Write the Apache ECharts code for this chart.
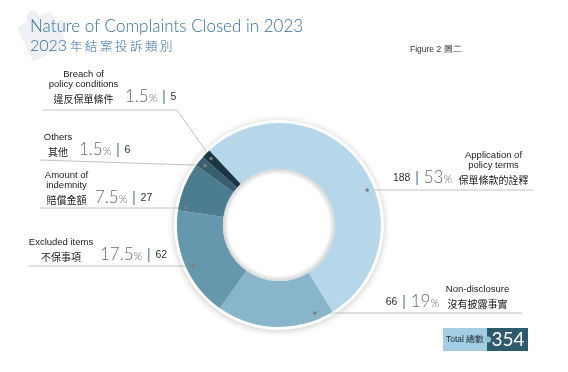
<!DOCTYPE html>
<html><head><meta charset="utf-8">
<script src="https://cdn.jsdelivr.net/npm/echarts@6/dist/echarts.min.js"></script>
<style>html,body{margin:0;padding:0;background:#fff;}#c{width:568px;height:372px;}</style>
</head><body><div id="c"></div>
<script>
// ---- data ----
const namesEn = ['Application of\npolicy terms', 'Non-disclosure', 'Excluded items', 'Amount of\nindemnity', 'Others', 'Breach of\npolicy conditions'];
const namesZh = ['保單條款的詮釋', '沒有披露事實', '不保事項', '賠償金額', '其他', '違反保單條件'];
const counts = [188, 66, 62, 27, 6, 5];
const pctLabels = ['53', '19', '17.5', '7.5', '1.5', '1.5'];
const titleEn = 'Nature of Complaints Closed in 2023';
const titleZhYear = '2023';
const titleZh = '年結案投訴類別';
const figureLabel = 'Figure 2 圖二';
const totalLabel = 'Total 總數';

// ---- styles / layout ----
const colors = ['#b6d7ea', '#88b5ca', '#6698ad', '#4c7c90', '#375f70', '#1c3545'];
const EN_FONT = 'Liberation Sans, Arial, sans-serif';
const CJK_FONT = 'Noto Sans CJK TC, sans-serif';
const NUM_FONT = 'Lato, sans-serif';
const TITLE_BLUE = '#336fa7';
const CENTER = [0.491, 0.605];
const DOT_R = 95;
const EN_SIZE = 9.5, CN_SIZE = 10;
const spots = [
  {side: 'right', lineY: 190, textX: 529, textBottom: 185, end: 534, mode: 'h'},
  {side: 'right', lineY: 313, textX: 510, textBottom: 309, end: 522, mode: 'h'},
  {side: 'left', lineY: 266, textX: 28, textBottom: 262, end: 28, mode: 'h'},
  {side: 'left', lineY: 208, textX: 44, textBottom: 205, end: 40, mode: 'h'},
  {side: 'left', lineY: 160, textX: 43, textBottom: 157, end: 40, mode: 'mid'},
  {side: 'left', lineY: 110, textX: 48, textBottom: 104, end: 42, mode: 'mid', kneeX: 177}
];

const mctx = document.createElement('canvas').getContext('2d');
function tw(text, size, family, weight) {
  mctx.font = (weight || 'normal') + ' ' + size + 'px ' + family;
  return mctx.measureText(text).width;
}
const SP = 6, BAR_W = 1.3;
const rich = {
  en: {fontFamily: EN_FONT, fontSize: EN_SIZE, lineHeight: 10.5, color: '#1a1a1a', align: 'center'},
  pct: {fontFamily: NUM_FONT, fontWeight: 300, fontSize: 17, lineHeight: 14, color: '#6a6a6a'},
  pcs: {fontFamily: NUM_FONT, fontWeight: 300, fontSize: 11, lineHeight: 14, color: '#6a6a6a', verticalAlign: 'bottom'},
  num: {fontFamily: EN_FONT, fontSize: 10.5, lineHeight: 14, color: '#333'},
  bar: {width: BAR_W, height: 14, lineHeight: 14, backgroundColor: '#6a85aa'},
  s: {width: SP, lineHeight: 14}
};
namesEn.forEach(function (en, i) {
  const enW = Math.max.apply(null, en.split('\n').map(t => tw(t, EN_SIZE, EN_FONT)));
  const nameW = Math.ceil(Math.max(enW, tw(namesZh[i], CN_SIZE, CJK_FONT)) + 1);
  const tailW = 3 * SP + BAR_W + tw(pctLabels[i], 17, NUM_FONT, 300) + tw('%', 11, NUM_FONT, 300) + tw(String(counts[i]), 10.5, EN_FONT);
  rich['cn' + i] = {fontFamily: CJK_FONT, fontSize: CN_SIZE, lineHeight: 10.5, color: '#1a1a1a', width: nameW, align: 'center', verticalAlign: 'bottom'};
  rich['f' + i] = {width: tailW, lineHeight: 10.5, align: spots[i].side === 'right' ? 'left' : 'right'};
});

function labelText(p) {
  const i = p.dataIndex, right = spots[i].side === 'right';
  const enLines = namesEn[i].split('\n').map(t => right ? '{f' + i + '| }{en|' + t + '}' : '{en|' + t + '}{f' + i + '| }');
  const cn = '{cn' + i + '|' + namesZh[i] + '}';
  const last = right
    ? '{num|' + counts[i] + '}{s| }{bar| }{s| }{pct|' + pctLabels[i] + '}{pcs|%}{s| }' + cn
    : cn + '{s| }{pct|' + pctLabels[i] + '}{pcs|%}{s| }{bar| }{s| }{num|' + counts[i] + '}';
  return enLines.concat([last]).join('\n');
}

const chart = echarts.init(document.getElementById('c'), null, {renderer: 'canvas'});
const anchors = [];
function center() { return [chart.getWidth() * CENTER[0], chart.getHeight() * CENTER[1]]; }
function anchorFor(i, pts) {
  const c = center(), s = spots[i];
  if (s.mode === 'h' || !pts) {
    const dy = s.lineY - c[1];
    const dx = Math.sqrt(Math.max(0, DOT_R * DOT_R - dy * dy));
    return [c[0] + (s.side === 'right' ? dx : -dx), s.lineY];
  }
  const vx = pts[0][0] - c[0], vy = pts[0][1] - c[1];
  const L = Math.sqrt(vx * vx + vy * vy);
  return [c[0] + vx / L * DOT_R, c[1] + vy / L * DOT_R];
}

const total = counts.reduce((a, b) => a + b, 0);
const centerPct = [(CENTER[0] * 100) + '%', (CENTER[1] * 100) + '%'];

function staticGraphics() {
  const zhRich = {
    y: {fontFamily: NUM_FONT, fontWeight: 300, fontSize: 16, fill: TITLE_BLUE, width: 40, align: 'left'},
    c: {fontFamily: CJK_FONT, fontWeight: 300, fontSize: 12.5, fill: TITLE_BLUE, width: 15, align: 'left'}
  };
  let zh = '{y|' + titleZhYear + '}';
  titleZh.split('').forEach(function (ch) { zh += '{c|' + ch + '}'; });
  const pz = '#eef0f3';
  return [
    {type: 'group', id: 'puzzle', x: 42, y: 36, rotation: 0.45, z: 0, children: [
      {type: 'rect', shape: {x: -19, y: -19, width: 38, height: 38, r: 2}, style: {fill: pz}},
      {type: 'circle', shape: {cx: 0, cy: -21, r: 6.5}, style: {fill: pz}},
      {type: 'circle', shape: {cx: 21, cy: 0, r: 6.5}, style: {fill: pz}}
    ]},
    {type: 'text', id: 't1', x: 30, y: 27, z: 10, style: {text: titleEn, fontFamily: NUM_FONT, fontWeight: 300, fontSize: 17, fill: TITLE_BLUE, verticalAlign: 'middle'}},
    {type: 'text', id: 't2', x: 30, y: 46, z: 10, style: {text: zh, rich: zhRich, verticalAlign: 'middle'}},
    {type: 'text', id: 'fig', x: 410, y: 50, z: 10, style: {text: figureLabel, fontFamily: EN_FONT, fontSize: 8.5, fill: '#333', verticalAlign: 'middle'}},
    {type: 'rect', id: 'tb1', shape: {x: 443, y: 328, width: 44, height: 23}, style: {fill: '#a3cde2'}, z: 10},
    {type: 'rect', id: 'tb2', shape: {x: 487, y: 328, width: 41, height: 23}, style: {fill: '#2e5a6e'}, z: 10},
    {type: 'circle', id: 'tbd', shape: {cx: 488, cy: 339.5, r: 3}, style: {fill: '#8fc1d9'}, z: 11},
    {type: 'text', id: 'tbt', x: 446, y: 340, z: 11, style: {text: totalLabel, fontFamily: EN_FONT, fontSize: 8.5, fill: '#1b2a33', verticalAlign: 'middle'}},
    {type: 'text', id: 'tbn', x: 508, y: 340, z: 11, style: {text: String(total), fontFamily: NUM_FONT, fontSize: 19, fill: '#fff', align: 'center', verticalAlign: 'middle'}}
  ];
}

const option = {
  backgroundColor: '#fff',
  animation: false,
  color: colors,
  graphic: staticGraphics(),
  series: [
    {
      type: 'pie', silent: true, center: centerPct, radius: [50, 105], z: 1,
      label: {show: false}, labelLine: {show: false},
      data: [{value: 1, itemStyle: {color: '#fff', shadowBlur: 7, shadowColor: 'rgba(0,0,0,0.22)', shadowOffsetY: 1}}]
    },
    {
      type: 'pie', center: centerPct, radius: [56, 102], startAngle: 133, clockwise: true, z: 2,
      avoidLabelOverlap: false,
      emphasis: {disabled: true},
      data: counts.map((v, i) => ({value: v, name: namesEn[i]})),
      label: {show: true, position: 'outside', formatter: labelText, rich: rich, lineHeight: 10.5, fontFamily: EN_FONT, color: '#222'},
      labelLine: {show: true, length: 8, length2: 8, lineStyle: {color: '#b3b3b3', width: 0.8}},
      labelLayout: function (p) {
        const i = p.dataIndex, s = spots[i];
        const a = anchorFor(i, p.labelLinePoints);
        anchors[i] = a;
        const knee = s.kneeX != null ? [s.kneeX, s.lineY] : a;
        return {
          x: s.textX, y: s.textBottom,
          align: s.side === 'right' ? 'right' : 'left', verticalAlign: 'bottom',
          labelLinePoints: [a, knee, [s.end, s.lineY]]
        };
      }
    },
    {
      type: 'pie', silent: true, center: centerPct, radius: [0, 56], z: 3,
      label: {show: false}, labelLine: {show: false},
      data: [{value: 1, itemStyle: {color: {type: 'radial', x: 0.5, y: 0.5, r: 0.5, colorStops: [
        {offset: 0, color: '#ffffff'}, {offset: 0.9, color: '#ffffff'}, {offset: 1, color: '#d4d4d4'}]}}}]
    }
  ]
};
chart.setOption(option);
const dots = anchors.filter(Boolean).map((a, i) => ({type: 'circle', id: 'dot' + i, shape: {cx: a[0], cy: a[1], r: 1.8}, style: {fill: '#7d7d7d'}, z: 50}));
option.graphic = staticGraphics().concat(dots);
chart.setOption(option, true);
</script>
</body></html>
